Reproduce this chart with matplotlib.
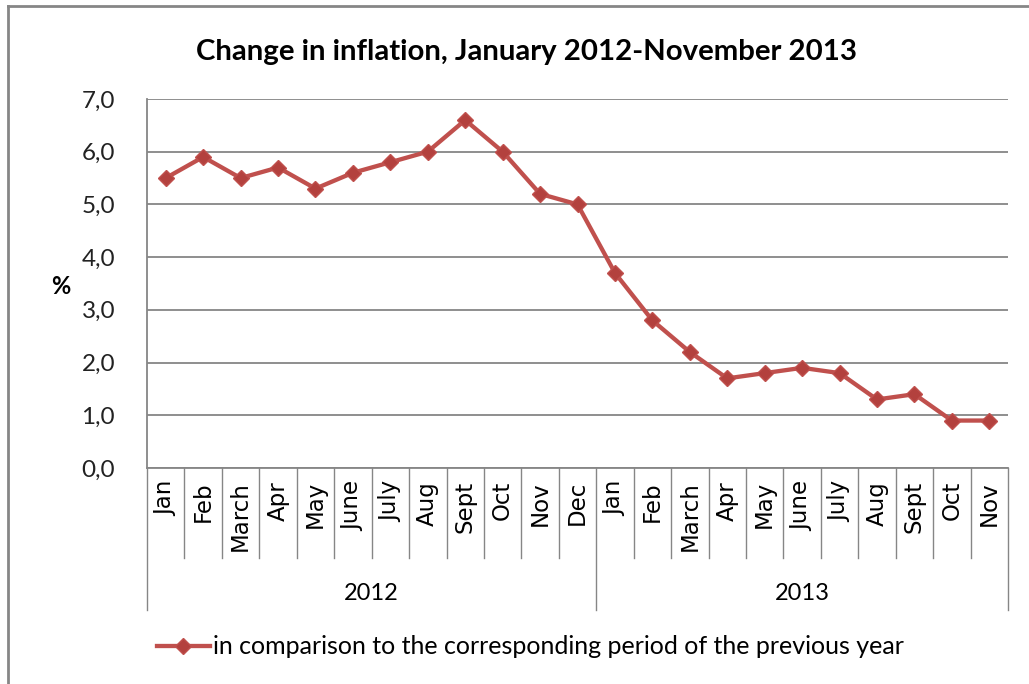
import matplotlib.pyplot as plt
from matplotlib.lines import Line2D
import matplotlib.transforms as mtransforms

plt.rcParams['font.family'] = ['Lato', 'Liberation Sans', 'DejaVu Sans']

months_2012 = ['Jan', 'Feb', 'March', 'Apr', 'May', 'June', 'July', 'Aug', 'Sept', 'Oct', 'Nov', 'Dec']
months_2013 = ['Jan', 'Feb', 'March', 'Apr', 'May', 'June', 'July', 'Aug', 'Sept', 'Oct', 'Nov']
years = ['2012', '2013']
values_2012 = [5.5, 5.9, 5.5, 5.7, 5.3, 5.6, 5.8, 6.0, 6.6, 6.0, 5.2, 5.0]
values_2013 = [3.7, 2.8, 2.2, 1.7, 1.8, 1.9, 1.8, 1.3, 1.4, 0.9, 0.9]
series_label = 'in comparison to the corresponding period of the previous year'
yticks = [0, 1, 2, 3, 4, 5, 6, 7]

months = months_2012 + months_2013
values = values_2012 + values_2013
x = list(range(len(months)))

grid_c = '#868686'
red = '#C0504D'

fig = plt.figure(figsize=(10.29, 6.84), dpi=100)
# outer chart frame (only top and left visible)
fig.add_artist(Line2D([0.008, 1.0], [0.991, 0.991], transform=fig.transFigure,
                      color=grid_c, lw=2.0))
fig.add_artist(Line2D([0.008, 0.008], [0.0, 0.991], transform=fig.transFigure,
                      color=grid_c, lw=2.0))

ax = fig.add_axes([0.1429, 0.3158, 0.8367, 0.5395])

ax.plot(x, values, color=red, lw=3.1, marker='D', markersize=8,
        markerfacecolor='#B3413E', markeredgecolor=red, label=series_label, zorder=3)

ax.set_xlim(-0.5, len(months) - 0.5)
ax.set_ylim(0, 7)
ax.set_yticks(yticks)
ax.set_yticklabels(['%d,0' % v for v in yticks], fontsize=17.5, color='#222222')
ax.yaxis.grid(True, color=grid_c, lw=1.3)
ax.set_axisbelow(True)
ax.tick_params(axis='y', length=0, pad=23)
ax.set_xticks([])
for s in ['top', 'right']:
    ax.spines[s].set_visible(False)
for s in ['left', 'bottom']:
    ax.spines[s].set_color(grid_c)
    ax.spines[s].set_linewidth(1.3)

fig.text(61 / 1029, 1 - 287 / 684, '%', fontsize=17, fontweight='bold',
         ha='center', va='center')
fig.text(527 / 1029, 1 - 52 / 684, 'Change in inflation, January 2012-November 2013',
         fontsize=21.2, fontweight='bold', ha='center', va='center')

# multi-level category axis
trans = mtransforms.blended_transform_factory(ax.transData, ax.transAxes)
month_bottom = -0.245
year_bottom = -0.385
for i in range(len(months) + 1):
    edge = i - 0.5
    if i in (0, len(months_2012), len(months)):
        yb = year_bottom
    else:
        yb = month_bottom
    ax.add_line(Line2D([edge, edge], [0, yb], transform=trans, color=grid_c,
                       lw=1.0, clip_on=False))
for i, m in enumerate(months):
    ax.text(i, -0.035, m, transform=trans, rotation=90, ha='center', va='top',
            fontsize=16.5, fontfamily=['DejaVu Sans'])
year_centers = [(len(months_2012) - 1) / 2,
                len(months_2012) + (len(months_2013) - 1) / 2]
for c, yr in zip(year_centers, years):
    ax.text(c, -0.34, yr, transform=trans, ha='center', va='center', fontsize=17)

fig.legend(loc='center left', bbox_to_anchor=(0.143, 1 - 647 / 684), frameon=False,
           fontsize=18, handlelength=2.1, handletextpad=0.15, borderaxespad=0)

fig.savefig('out.png', dpi=100)
